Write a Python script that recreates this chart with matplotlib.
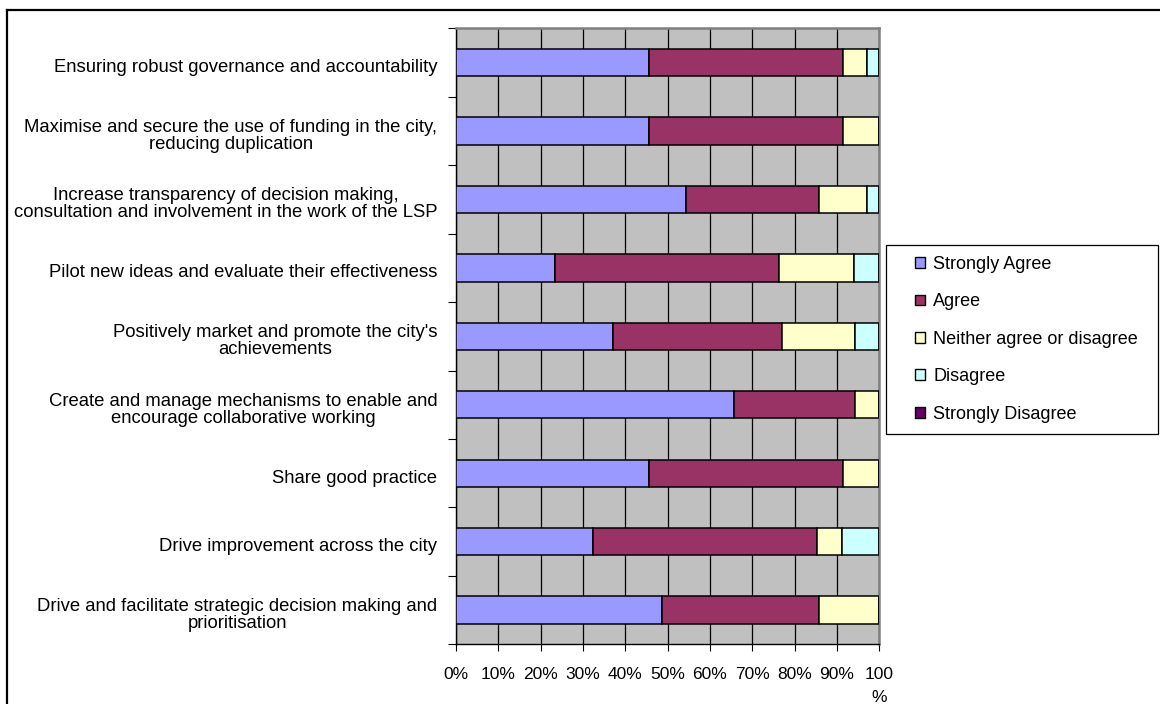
import matplotlib
matplotlib.use("Agg")
import matplotlib.pyplot as plt
from matplotlib.lines import Line2D
from matplotlib.patches import Rectangle, Patch
from matplotlib.ticker import FixedLocator
from matplotlib.transforms import ScaledTranslation

plt.rcParams['font.family'] = ['Liberation Sans', 'DejaVu Sans']

categories = [
    "Ensuring robust governance and accountability",
    "Maximise and secure the use of funding in the city,\nreducing duplication",
    "Increase transparency of decision making,\nconsultation and involvement in the work of the LSP",
    "Pilot new ideas and evaluate their effectiveness",
    "Positively market and promote the city's\nachievements",
    "Create and manage mechanisms to enable and\nencourage collaborative working",
    "Share good practice",
    "Drive improvement across the city",
    "Drive and facilitate strategic decision making and\nprioritisation",
]

series_names = ["Strongly Agree", "Agree", "Neither agree or disagree",
                "Disagree", "Strongly Disagree"]

strongly_agree = [45.7, 45.7, 54.3, 23.5, 37.1, 65.7, 45.7, 32.4, 48.6]
agree = [45.7, 45.7, 31.4, 52.9, 40.0, 28.6, 45.7, 52.9, 37.1]
neither = [5.7, 8.6, 11.4, 17.6, 17.1, 5.7, 8.6, 5.9, 14.3]
disagree = [2.9, 0.0, 2.9, 5.9, 5.7, 0.0, 0.0, 8.8, 0.0]
strongly_disagree = [0.0, 0.0, 0.0, 0.0, 0.0, 0.0, 0.0, 0.0, 0.0]

x_ticks = [0, 10, 20, 30, 40, 50, 60, 70, 80, 90, 100]
x_tick_labels = ["0%", "10%", "20%", "30%", "40%", "50%", "60%", "70%",
                 "80%", "90%", "100\n%"]

colors = ["#9999FF", "#993366", "#FFFFCC", "#CCFFFF", "#660066"]

W, H = 1160, 704
fig = plt.figure(figsize=(W / 100, H / 100), dpi=100)
fig.patch.set_facecolor("white")

ax = fig.add_axes([456 / W, 1 - 644.3 / H, (879.3 - 456) / W, (644.3 - 28.3) / H])
ax.set_facecolor("#C0C0C0")

ypos = list(range(len(categories)))
left = [0.0] * len(categories)
for vals, col in zip([strongly_agree, agree, neither, disagree, strongly_disagree], colors):
    ax.barh(ypos, vals, left=left, height=0.4, color=col, edgecolor="black",
            linewidth=1.1, zorder=3)
    left = [l + v for l, v in zip(left, vals)]

ax.set_xlim(0, 100)
ax.set_ylim(len(categories) - 0.5, -0.5)

ax.set_xticks(x_ticks)
ax.set_xticklabels(x_tick_labels, fontsize=12.5, linespacing=1.7, va="top")
ax.tick_params(axis="x", which="major", length=5, width=0.8, direction="out",
               pad=11, color="black")
ax.xaxis.grid(True, color="black", linewidth=0.9, zorder=1)
ax.set_axisbelow(True)

ax.set_yticks(ypos)
ax.set_yticklabels(categories, fontsize=13.3, linespacing=1.0, ha="right",
                   multialignment="center")
ax.tick_params(axis="y", which="major", length=0, pad=13.5)
ax.yaxis.set_minor_locator(FixedLocator([i - 0.5 for i in range(len(categories) + 1)]))
ax.tick_params(axis="y", which="minor", length=6, width=0.8, direction="out",
               color="black")

# category labels sit slightly below the bar centres
shift = ScaledTranslation(0, -3 / 100, fig.dpi_scale_trans)
for lbl in ax.get_yticklabels():
    lbl.set_transform(lbl.get_transform() + shift)

for side in ["top", "right"]:
    ax.spines[side].set_color("#808080")
    ax.spines[side].set_linewidth(1.8)
for side in ["left", "bottom"]:
    ax.spines[side].set_color("black")
    ax.spines[side].set_linewidth(1.0)

# legend box
fig.add_artist(Rectangle((886 / W, 1 - 434 / H), (1158 - 886) / W, (434 - 245) / H,
                         transform=fig.transFigure, facecolor="white",
                         edgecolor="black", linewidth=0.9))
handles = [Patch(facecolor=c, edgecolor="black", linewidth=1.0) for c in colors]
fig.legend(handles, series_names, loc="upper left",
           bbox_to_anchor=(915 / W, 1 - 256 / H), frameon=False, fontsize=13,
           handlelength=0.55, handleheight=0.55, handletextpad=0.45,
           labelspacing=1.13, borderpad=0, borderaxespad=0)

# outer chart border
fig.add_artist(Line2D([6.5 / W, 1.0], [1 - 9.5 / H, 1 - 9.5 / H],
                      transform=fig.transFigure, color="black", linewidth=1.6))
fig.add_artist(Line2D([6.5 / W, 6.5 / W], [0.0, 1 - 9.5 / H],
                      transform=fig.transFigure, color="black", linewidth=1.6))

fig.savefig("out.png", dpi=100, facecolor="white")
